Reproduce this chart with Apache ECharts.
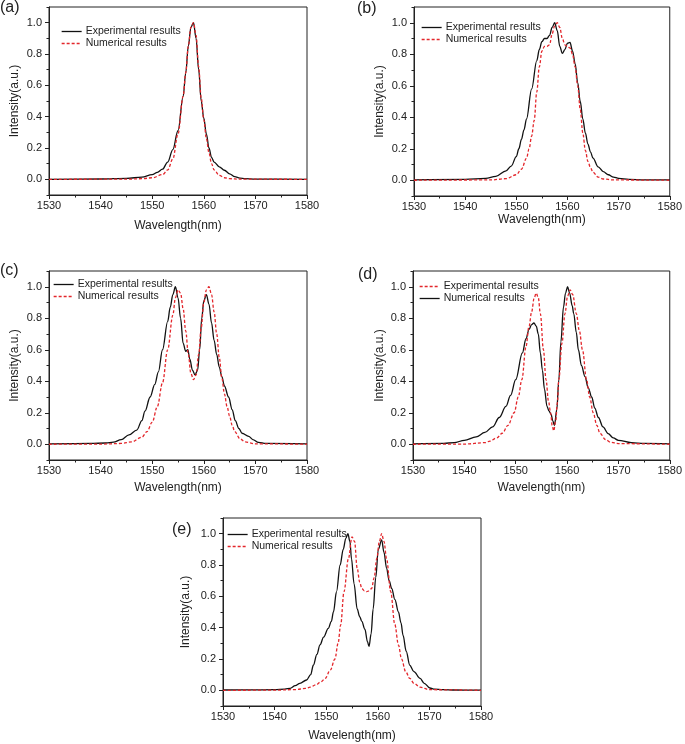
<!DOCTYPE html>
<html>
<head>
<meta charset="utf-8">
<script src="https://cdn.jsdelivr.net/npm/echarts@6/dist/echarts.min.js"></script>
<style>html,body{margin:0;padding:0;background:#fff}#c{width:685px;height:744px}</style>
</head>
<body>
<div id="c"></div>
<script>
// ---------- data ----------
const panelLabels = ['(a)', '(b)', '(c)', '(d)', '(e)'];
const xAxisName = 'Wavelength(nm)';
const yAxisName = 'Intensity(a.u.)';
const yTickValues = [0, 0.2, 0.4, 0.6, 0.8, 1.0];
const yMinorValues = [-0.1, 0.1, 0.3, 0.5, 0.7, 0.9, 1.1];

// (a)
const a_exp_x = [1530,1540,1545,1548,1550,1551,1552,1553,1554,1555,1556,1556.5,1557,1557.5,1558,1558.5,1559,1559.5,1560,1560.5,1561,1561.5,1562,1563,1564,1565,1566,1567,1568,1570,1580];
const a_exp_y = [0,0.002,0.006,0.014,0.03,0.045,0.065,0.11,0.19,0.31,0.53,0.68,0.85,0.97,1.0,0.9,0.7,0.5,0.39,0.29,0.2,0.14,0.11,0.08,0.058,0.035,0.017,0.008,0.004,0.001,0];
const a_num_x = [1530,1545,1548,1550,1552,1553,1554,1555,1556,1556.5,1557,1557.5,1558,1558.5,1559,1559.5,1560,1560.5,1561,1561.5,1562,1563,1564,1565,1567,1580];
const a_num_y = [0,0.001,0.004,0.01,0.03,0.06,0.13,0.29,0.53,0.68,0.85,0.97,1.0,0.92,0.72,0.52,0.38,0.26,0.17,0.1,0.06,0.025,0.01,0.004,0.001,0];

// (b)
const b_exp_x = [1530,1540,1544,1546,1548,1549,1550,1550.5,1551,1551.5,1552,1553,1554,1554.5,1555,1555.5,1556,1556.5,1557,1557.5,1558,1558.5,1559,1559.5,1560,1560.5,1561,1561.5,1562,1562.5,1563,1563.5,1564,1564.5,1565,1566,1567,1568,1569,1570,1572,1575,1580];
const b_exp_y = [0.003,0.006,0.012,0.025,0.06,0.09,0.15,0.2,0.26,0.32,0.39,0.58,0.76,0.83,0.88,0.9,0.9,0.92,0.97,1.0,0.95,0.85,0.805,0.83,0.87,0.875,0.82,0.74,0.62,0.5,0.39,0.3,0.23,0.18,0.14,0.085,0.055,0.035,0.02,0.012,0.006,0.003,0.002];
const b_num_x = [1530,1545,1548,1550,1551,1552,1552.5,1553,1553.5,1554,1554.5,1555,1555.5,1556,1556.5,1557,1557.5,1558,1558.5,1559,1559.5,1560,1560.5,1561,1561.5,1562,1562.5,1563,1563.5,1564,1564.5,1565,1566,1567,1569,1580];
const b_num_y = [0,0.002,0.01,0.035,0.07,0.14,0.2,0.28,0.38,0.56,0.72,0.82,0.85,0.85,0.86,0.93,0.98,1.0,0.97,0.9,0.86,0.85,0.84,0.8,0.72,0.6,0.45,0.3,0.19,0.12,0.08,0.05,0.02,0.008,0.002,0];

// (c)
const c_exp_x = [1530,1538,1541,1542.5,1544,1545.5,1547,1548,1548.6,1549.6,1550.5,1551.2,1552,1553,1553.5,1554,1554.5,1555,1555.5,1556,1556.5,1556.9,1557.3,1557.8,1558.3,1558.8,1559.2,1559.6,1560,1560.5,1561,1561.5,1562,1562.5,1563,1563.5,1564,1564.8,1565.5,1566.1,1566.8,1567.4,1568.7,1569.5,1570.6,1572,1580];
const c_exp_y = [0.003,0.005,0.008,0.013,0.03,0.06,0.09,0.15,0.21,0.3,0.38,0.46,0.6,0.78,0.87,0.95,1.0,0.93,0.8,0.64,0.59,0.6,0.54,0.47,0.44,0.47,0.6,0.8,0.91,0.95,0.89,0.77,0.66,0.57,0.49,0.43,0.37,0.3,0.22,0.15,0.1,0.07,0.05,0.03,0.012,0.005,0.002];
const c_num_x = [1530,1540,1544,1546,1548,1549,1550,1551,1552,1553,1554,1554.5,1555,1555.5,1556,1556.5,1557,1557.5,1558,1558.5,1559,1559.5,1560,1560.5,1561,1561.5,1562,1562.5,1563,1563.5,1564,1564.5,1565,1565.5,1566,1567,1568,1570,1580];
const c_num_y = [0,0.001,0.005,0.015,0.045,0.08,0.14,0.24,0.39,0.6,0.82,0.93,0.98,0.96,0.86,0.72,0.57,0.45,0.41,0.44,0.57,0.74,0.9,0.98,1.0,0.95,0.84,0.7,0.55,0.42,0.32,0.24,0.18,0.12,0.08,0.035,0.015,0.003,0];

// (d)  (red dashed labelled "Experimental results", black solid labelled "Numerical results")
const d_red_x = [1530,1540,1544,1545,1546.3,1547.4,1548.5,1549.7,1550.5,1551.2,1552,1552.6,1553.1,1553.6,1554,1554.4,1554.8,1555.4,1555.9,1556.4,1556.8,1557.1,1557.4,1557.8,1558.1,1558.4,1559,1559.6,1560.1,1560.6,1561.1,1561.8,1562.4,1563,1563.8,1564.4,1565.1,1565.8,1566.4,1567.5,1568.5,1570,1580];
const d_red_y = [0,0.001,0.01,0.02,0.04,0.07,0.12,0.2,0.3,0.41,0.62,0.75,0.84,0.93,0.96,0.93,0.83,0.6,0.41,0.27,0.2,0.12,0.085,0.15,0.26,0.41,0.64,0.83,0.94,0.98,0.95,0.83,0.72,0.6,0.41,0.3,0.2,0.12,0.07,0.03,0.012,0.004,0];
const d_blk_x = [1530,1536,1538,1540,1542.3,1544,1545.5,1546.8,1548.1,1549,1550,1551.3,1552,1552.6,1553.1,1553.55,1554,1554.4,1554.8,1555.2,1555.6,1556.1,1556.5,1556.9,1557.2,1557.55,1558,1558.4,1558.8,1559.3,1559.7,1560.1,1560.5,1561,1561.3,1561.8,1562.2,1562.8,1563.5,1564.1,1564.8,1565.4,1566.1,1567,1568,1569,1570,1572.5,1575,1580];
const d_blk_y = [0.003,0.006,0.01,0.025,0.047,0.075,0.11,0.17,0.24,0.31,0.41,0.58,0.67,0.73,0.76,0.77,0.75,0.7,0.58,0.47,0.35,0.24,0.21,0.19,0.15,0.12,0.22,0.41,0.65,0.87,0.96,1.0,0.96,0.88,0.83,0.71,0.6,0.5,0.43,0.36,0.3,0.23,0.17,0.11,0.068,0.04,0.025,0.01,0.005,0.003];

// (e)
const e_exp_x = [1530,1535,1540,1542,1543,1544,1544.9,1546.2,1547,1547.5,1548.2,1548.8,1549.5,1550.4,1551,1551.4,1552,1552.7,1553.3,1553.8,1554.2,1554.6,1554.9,1555.4,1556,1556.5,1556.9,1557.5,1558,1558.3,1558.7,1559.1,1559.6,1560.1,1560.75,1561.2,1561.7,1562.2,1562.7,1563.3,1564,1564.5,1564.9,1565.5,1566.2,1567,1568.2,1569,1570.1,1571,1572.6,1575,1580];
const e_exp_y = [0.002,0.003,0.004,0.008,0.013,0.03,0.045,0.066,0.1,0.16,0.23,0.29,0.34,0.395,0.44,0.5,0.63,0.8,0.9,0.97,1.0,0.95,0.84,0.68,0.52,0.47,0.44,0.39,0.31,0.28,0.36,0.52,0.72,0.9,0.96,0.88,0.78,0.7,0.65,0.58,0.5,0.43,0.35,0.25,0.16,0.12,0.076,0.045,0.015,0.008,0.005,0.002,0.001];
const e_num_x = [1530,1540,1544,1546,1546.9,1548,1549,1549.8,1550.8,1551.7,1552.3,1552.8,1553.45,1554.3,1555,1555.5,1556,1556.5,1556.9,1557.4,1557.85,1558.3,1558.8,1559.3,1559.8,1560.3,1560.75,1561.2,1561.7,1562.5,1563.3,1564,1564.6,1565.4,1566.2,1567,1568.2,1570,1580];
const e_num_y = [0,0.001,0.005,0.012,0.02,0.035,0.055,0.076,0.13,0.2,0.3,0.416,0.63,0.84,0.98,0.95,0.78,0.69,0.65,0.635,0.63,0.635,0.65,0.72,0.84,0.95,1.0,0.95,0.84,0.63,0.42,0.29,0.2,0.12,0.076,0.045,0.02,0.004,0];

// ---------- layout ----------
const BLACK = '#111';
const RED = '#e3262b';
const grids = [
  {left: 49, top: 7, width: 258, height: 188, nameGapX: 25, nameGapY: 28, legend: {left: 61, top: 26}, label: {left: 0, top: 0}},
  {left: 414, top: 7, width: 258, height: 189, nameGapX: 18, nameGapY: 28, legend: {left: 421, top: 22}, label: {left: 357, top: 1}},
  {left: 49, top: 271, width: 258, height: 189, nameGapX: 22, nameGapY: 28, legend: {left: 53, top: 279}, label: {left: 0, top: 263}},
  {left: 413, top: 271, width: 259, height: 189, nameGapX: 22, nameGapY: 27, legend: {left: 419, top: 281}, label: {left: 358, top: 267}},
  {left: 223, top: 518, width: 258, height: 188, nameGapX: 24, nameGapY: 31, legend: {left: 227, top: 529}, label: {left: 172, top: 522}}
];

const panels = [
  [{name: 'Experimental results', x: a_exp_x, y: a_exp_y, color: BLACK, dash: false},
   {name: 'Numerical results', x: a_num_x, y: a_num_y, color: RED, dash: true}],
  [{name: 'Experimental results', x: b_exp_x, y: b_exp_y, color: BLACK, dash: false},
   {name: 'Numerical results', x: b_num_x, y: b_num_y, color: RED, dash: true}],
  [{name: 'Experimental results', x: c_exp_x, y: c_exp_y, color: BLACK, dash: false},
   {name: 'Numerical results', x: c_num_x, y: c_num_y, color: RED, dash: true}],
  [{name: 'Experimental results', x: d_red_x, y: d_red_y, color: RED, dash: true},
   {name: 'Numerical results', x: d_blk_x, y: d_blk_y, color: BLACK, dash: false}],
  [{name: 'Experimental results', x: e_exp_x, y: e_exp_y, color: BLACK, dash: false},
   {name: 'Numerical results', x: e_num_x, y: e_num_y, color: RED, dash: true}]
];

const FONT = 'Liberation Sans, Arial, sans-serif';
const gridOpt = [], xAxes = [], yAxes = [], series = [], legends = [], titles = [];
const labelMap = {};

grids.forEach((g, i) => {
  gridOpt.push({left: g.left, top: g.top, width: g.width, height: g.height, show: true, borderColor: '#222', borderWidth: 1, backgroundColor: 'transparent'});
  xAxes.push({
    gridIndex: i, type: 'value', min: 1530, max: 1580, interval: 10, position: 'bottom',
    axisLine: {onZero: false, lineStyle: {color: '#222', width: 1}},
    axisTick: {show: true, inside: false, length: 4, lineStyle: {color: '#222'}},
    minorTick: {show: true, splitNumber: 2, length: 2.5, lineStyle: {color: '#222'}},
    splitLine: {show: false},
    axisLabel: {fontSize: 11, color: '#222', margin: 5, fontFamily: FONT, formatter: v => String(v)},
    name: xAxisName, nameLocation: 'middle', nameGap: g.nameGapX,
    nameTextStyle: {fontSize: 12, color: '#222', fontFamily: FONT}
  });
  yAxes.push({
    gridIndex: i, type: 'value', min: -0.1, max: 1.1, position: 'left',
    axisLine: {onZero: false, lineStyle: {color: '#222', width: 1}},
    axisTick: {show: true, inside: false, length: 4, customValues: yTickValues, lineStyle: {color: '#222'}},
    splitLine: {show: false},
    axisLabel: {fontSize: 11, color: '#222', margin: 7, fontFamily: FONT, customValues: yTickValues,
      formatter: v => Number(v).toFixed(1)},
    name: yAxisName, nameLocation: 'middle', nameGap: g.nameGapY, nameRotate: 90,
    nameTextStyle: {fontSize: 12, color: '#222', fontFamily: FONT}
  });
  yAxes.push({
    gridIndex: i, type: 'value', min: -0.1, max: 1.1, position: 'left',
    axisLine: {show: false},
    axisTick: {show: true, inside: false, length: 2.5, customValues: yMinorValues, lineStyle: {color: '#222'}},
    axisLabel: {show: false},
    splitLine: {show: false}
  });
  const legendItems = [];
  panels[i].forEach((s, j) => {
    const id = 'p' + i + '_' + j;
    labelMap[id] = s.name;
    const ls = {color: s.color, width: 1.3, type: s.dash ? [3, 2] : 'solid'};
    legendItems.push({name: id, lineStyle: ls, itemStyle: {opacity: 0}});
    series.push({
      name: id, type: 'line', xAxisIndex: i, yAxisIndex: 2 * i,
      data: s.x.map((xv, k) => [xv, s.y[k]]),
      showSymbol: false, symbol: 'none', smooth: 0.35, smoothMonotone: 'x',
      lineStyle: ls,
      itemStyle: {color: s.color},
      z: s.dash ? 3 : 2,
      animation: false
    });
  });
  legends.push({
    data: legendItems, left: g.legend.left, top: g.legend.top, orient: 'vertical',
    padding: 0, itemGap: 1, itemWidth: 20, itemHeight: 11, selectedMode: false,
    itemStyle: {opacity: 0},
    formatter: n => labelMap[n],
    textStyle: {fontSize: 10.5, color: '#222', fontFamily: FONT, padding: [0, 0, 0, -1]}
  });
  titles.push({
    text: panelLabels[i], left: g.label.left, top: g.label.top, padding: 0,
    textStyle: {fontSize: 16, fontWeight: 'normal', color: '#222', fontFamily: FONT}
  });
});

const chart = echarts.init(document.getElementById('c'), null, {renderer: 'canvas'});
chart.setOption({
  animation: false,
  backgroundColor: '#fff',
  title: titles,
  grid: gridOpt,
  xAxis: xAxes,
  yAxis: yAxes,
  legend: legends,
  series: series
});
</script>
</body>
</html>
